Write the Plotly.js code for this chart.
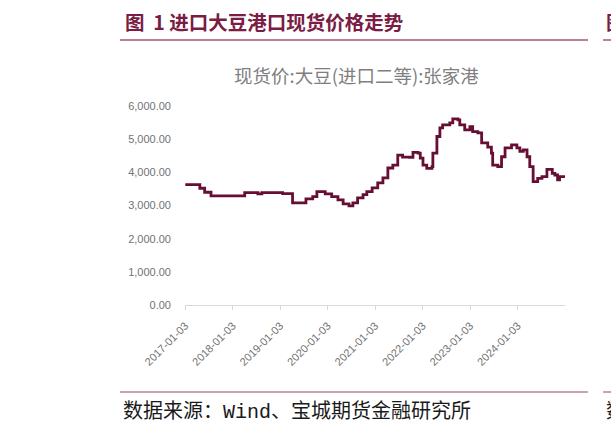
<!DOCTYPE html>
<html>
<head>
<meta charset="utf-8">
<script src="https://cdn.plot.ly/plotly-3.0.1.min.js"></script>
<style>html,body{margin:0;padding:0;background:#fff;}#chart{width:611px;height:430px;}</style>
</head>
<body>
<div id="chart"></div>
<script>
// Data
var dates = ['2017-01-03','2017-03-15','2017-04-25','2017-06-01','2017-07-20','2018-04-05','2018-07-15','2018-08-15','2019-01-22','2019-04-08','2019-07-20','2019-09-10','2019-10-12','2019-12-15','2020-02-03','2020-03-22','2020-05-01','2020-06-15','2020-07-15','2020-08-20','2020-10-01','2020-10-30','2020-12-10','2021-01-22','2021-03-03','2021-04-10','2021-05-18','2021-06-25','2021-08-01','2021-09-25','2021-10-20','2021-11-28','2021-12-15','2022-01-05','2022-02-03','2022-03-15','2022-03-22','2022-04-22','2022-05-15','2022-06-05','2022-07-30','2022-08-22','2022-10-01','2022-10-15','2022-11-22','2023-01-01','2023-01-22','2023-03-03','2023-04-01','2023-05-18','2023-06-15','2023-06-25','2023-08-03','2023-09-01','2023-09-28','2023-11-17','2023-12-28','2024-01-20','2024-02-15','2024-03-15','2024-04-05','2024-05-01','2024-06-05','2024-07-08','2024-08-15','2024-09-25','2024-10-15','2024-11-05','2024-11-20','2024-12-31'];
var prices = [3630,3630,3520,3400,3290,3390,3350,3390,3360,3080,3200,3270,3420,3350,3270,3170,3050,2990,3080,3230,3330,3420,3530,3680,3830,4130,4220,4520,4460,4450,4600,4580,4430,4220,4120,4170,4580,5080,5340,5430,5490,5610,5580,5430,5280,5380,5230,5190,4890,4760,4580,4220,4170,4470,4740,4830,4740,4630,4680,4470,4170,3720,3820,3870,4090,3970,3920,3770,3870,3840];
var tickDates = ['2017-01-03','2018-01-03','2019-01-03','2020-01-03','2021-01-03','2022-01-03','2023-01-03','2024-01-03'];
var tickLabels = ['2017-01-03','2018-01-03','2019-01-03','2020-01-03','2021-01-03','2022-01-03','2023-01-03','2024-01-03'];
var yTicks = [0,1000,2000,3000,4000,5000,6000];

var headerText = '图&nbsp;&nbsp;1&nbsp;进口大豆港口现货价格走势';
var chartTitle = '现货价:大豆(进口二等):张家港';
var sourceText = '数据来源：<span style="font-family:Liberation Mono, DejaVu Sans Mono, monospace">Wind</span>、宝城期货金融研究所';

// pixel -> paper helpers (plot area: x 185..565, y 106..305)
var L = 185, R = 565, T = 106, B = 305;
function px(x){ return (x - L) / (R - L); }
function py(y){ return (B - y) / (B - T); }

var maroon = '#7a1c44';
var ruleColor = '#a65776';

var trace = {
  x: dates, y: prices, type: 'scatter', mode: 'lines',
  line: {color: '#660e33', width: 2.8, shape: 'hv'},
  hoverinfo: 'skip'
};

var tickFont = {family: 'Liberation Sans, Arial, sans-serif', size: 11, color: '#737373'};

var layout = {
  width: 611, height: 430,
  margin: {l: L, r: 611 - R, t: T, b: 430 - B, pad: 0},
  paper_bgcolor: '#ffffff', plot_bgcolor: '#ffffff',
  showlegend: false,
  xaxis: {
    type: 'date', range: ['2017-01-01','2025-01-01'],
    tickmode: 'array', tickvals: tickDates, ticktext: tickLabels,
    tickangle: -45, showgrid: false, zeroline: false,
    showline: true, linecolor: '#d9d9d9', linewidth: 1,
    ticks: 'outside', ticklen: 4, tickcolor: '#d9d9d9',
    ticklabelstandoff: 5,
    tickfont: tickFont
  },
  yaxis: {
    range: [0, 6000], tickmode: 'array', tickvals: yTicks,
    tickformat: ',.2f', showgrid: false, zeroline: false, showline: false,
    ticks: '', ticklabelstandoff: 13,
    tickfont: tickFont
  },
  shapes: [
    {type: 'line', xref: 'paper', yref: 'paper', x0: px(120), x1: px(588), y0: py(40), y1: py(40), line: {color: ruleColor, width: 1.6}},
    {type: 'line', xref: 'paper', yref: 'paper', x0: px(603), x1: px(640), y0: py(40), y1: py(40), line: {color: ruleColor, width: 1.6}},
    {type: 'line', xref: 'paper', yref: 'paper', x0: px(120), x1: px(588), y0: py(392), y1: py(392), line: {color: '#b88499', width: 1.6}},
    {type: 'line', xref: 'paper', yref: 'paper', x0: px(603), x1: px(640), y0: py(392), y1: py(392), line: {color: '#b88499', width: 1.6}}
  ],
  annotations: [
    {text: '<b>' + headerText + '</b>', xref: 'paper', yref: 'paper', x: px(123), y: py(22), xanchor: 'left', yanchor: 'middle', showarrow: false,
     font: {family: 'Noto Sans CJK SC, sans-serif', size: 19.5, color: maroon}},
    {text: '<b>图</b>', xref: 'paper', yref: 'paper', x: px(604), y: py(22), xanchor: 'left', yanchor: 'middle', showarrow: false,
     font: {family: 'Noto Sans CJK SC, sans-serif', size: 19.5, color: maroon}},
    {text: chartTitle, xref: 'paper', yref: 'paper', x: px(356), y: py(75), xanchor: 'center', yanchor: 'middle', showarrow: false,
     font: {family: 'Noto Sans CJK SC, sans-serif', size: 18.5, color: '#7f7f7f'}},
    {text: sourceText, xref: 'paper', yref: 'paper', x: px(121), y: py(409), xanchor: 'left', yanchor: 'middle', showarrow: false,
     font: {family: 'Noto Sans CJK SC, sans-serif', size: 20, color: '#1a1a1a'}},
    {text: '数', xref: 'paper', yref: 'paper', x: px(604), y: py(409), xanchor: 'left', yanchor: 'middle', showarrow: false,
     font: {family: 'Noto Sans CJK SC, sans-serif', size: 20, color: '#1a1a1a'}}
  ]
};

Plotly.newPlot('chart', [trace], layout, {staticPlot: true, displayModeBar: false});
</script>
</body>
</html>
